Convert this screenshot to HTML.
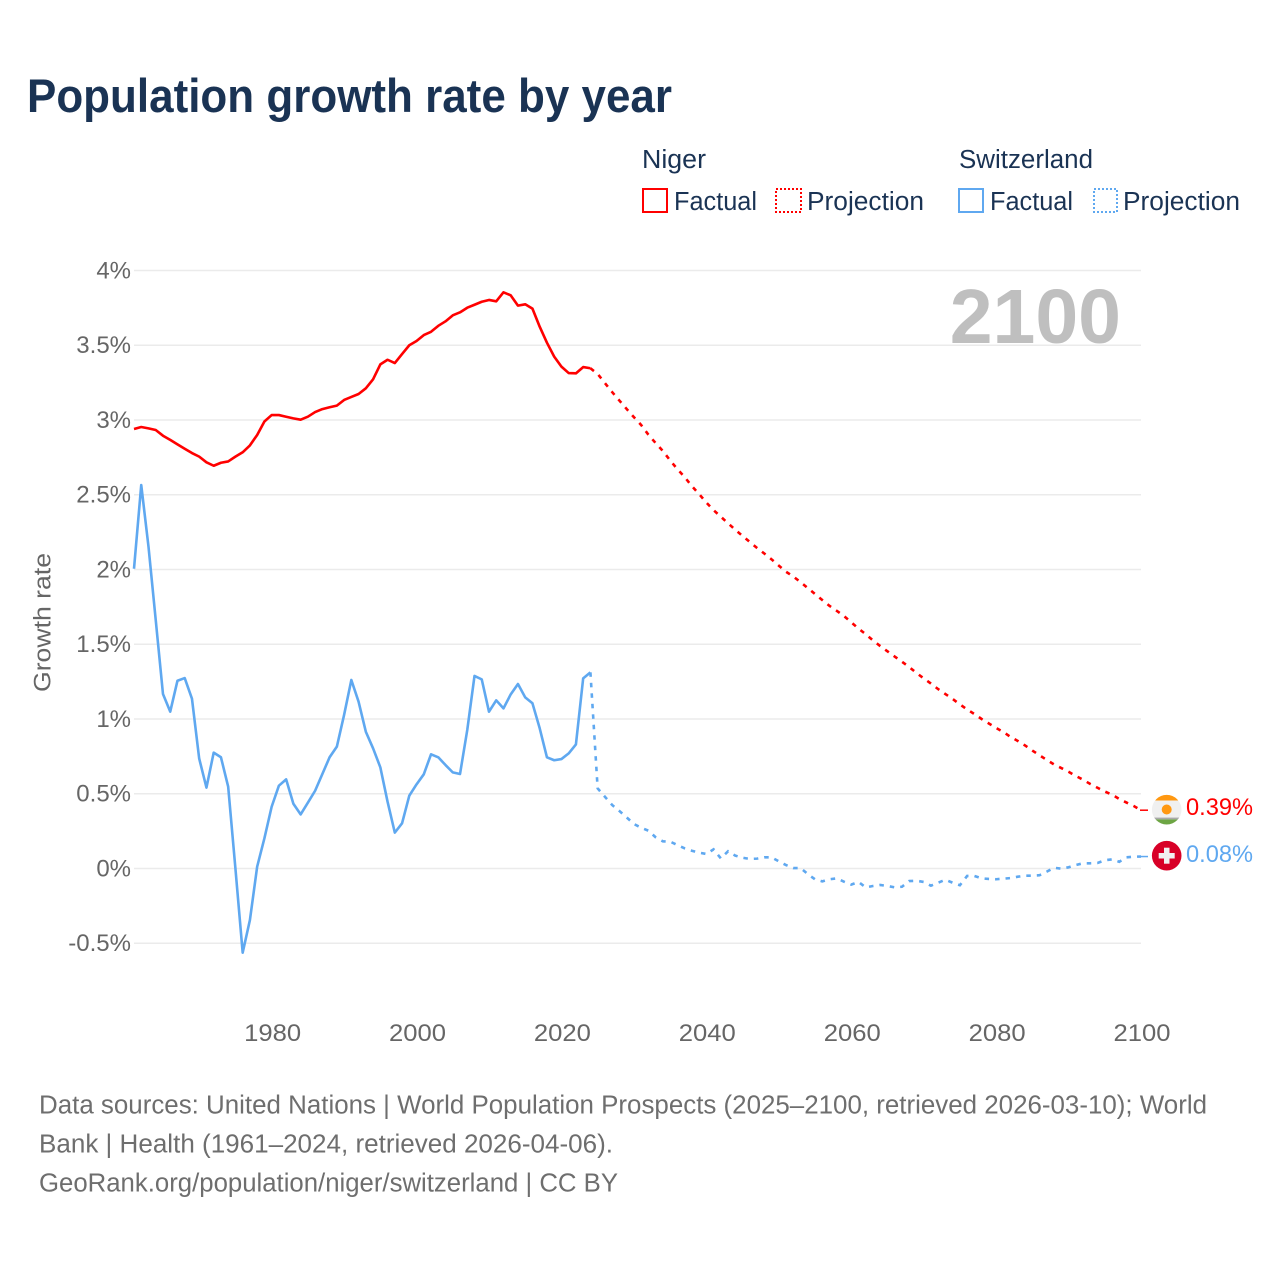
<!DOCTYPE html>
<html lang="en">
<head>
<meta charset="utf-8">
<title>Population growth rate by year</title>
<style>
html,body{margin:0;padding:0;background:#fff;}
svg{display:block;font-family:"Liberation Sans",sans-serif;}
</style>
</head>
<body>
<svg id="chart" xmlns="http://www.w3.org/2000/svg" width="1280" height="1280" viewBox="0 0 1280 1280">
  <rect x="0" y="0" width="1280" height="1280" fill="#fff"/>
  <text x="27" y="112" font-size="47" font-weight="700" fill="#1a3354" textLength="645" lengthAdjust="spacingAndGlyphs">Population growth rate by year</text>

  <g font-size="25.5" fill="#1a3354">
    <text x="642" y="168" textLength="64" lengthAdjust="spacingAndGlyphs">Niger</text>
    <text x="959" y="168" textLength="134" lengthAdjust="spacingAndGlyphs">Switzerland</text>
    <rect x="643" y="189" width="24" height="23" fill="none" stroke="#ff0000" stroke-width="2"/>
    <text x="674" y="210" textLength="83" lengthAdjust="spacingAndGlyphs">Factual</text>
    <rect x="776" y="189" width="25" height="23" fill="none" stroke="#ff0000" stroke-width="2" stroke-dasharray="2 2"/>
    <text x="807" y="210" textLength="117" lengthAdjust="spacingAndGlyphs">Projection</text>
    <rect x="959" y="189" width="24" height="23" fill="none" stroke="#5fa8f0" stroke-width="2"/>
    <text x="990" y="210" textLength="83" lengthAdjust="spacingAndGlyphs">Factual</text>
    <rect x="1094" y="189" width="23" height="23" fill="none" stroke="#5fa8f0" stroke-width="2" stroke-dasharray="2 2"/>
    <text x="1123" y="210" textLength="117" lengthAdjust="spacingAndGlyphs">Projection</text>
  </g>

  <g id="grid"></g>
  <g id="yticks" font-size="24" fill="#666666" text-anchor="end"></g>
  <g id="xticks" font-size="24" fill="#666666" text-anchor="middle"></g>
  <text transform="translate(50.5,622.5) rotate(-90)" font-size="24" fill="#666666" text-anchor="middle" textLength="139" lengthAdjust="spacingAndGlyphs">Growth rate</text>

  <text x="1121" y="343" font-size="77" font-weight="700" fill="#bfbfbf" text-anchor="end">2100</text>

  <g id="series"></g>

  <g>
    <clipPath id="nigerClip"><circle cx="1166.7" cy="809.7" r="14.8"/></clipPath>
    <g clip-path="url(#nigerClip)">
      <rect x="1150" y="794" width="34" height="32" fill="#f0f0f0"/>
      <rect x="1150" y="794" width="34" height="6.5" fill="#ff9811"/>
      <rect x="1150" y="819.3" width="34" height="7" fill="#6da544"/>
      <rect x="1150" y="817.6" width="34" height="1.7" fill="#a9a9a9"/>
    </g>
    <circle cx="1166.7" cy="809.5" r="5" fill="#ff9811"/>
  </g>
  <g>
    <circle cx="1166.7" cy="855.7" r="14.8" fill="#d80027"/>
    <rect x="1158.7" y="853" width="16" height="5.5" fill="#f0f0f0"/>
    <rect x="1164" y="847.7" width="5.5" height="16" fill="#f0f0f0"/>
  </g>
  <text id="labelNiger" x="1186" y="815" font-size="24" fill="#ff0000" textLength="67" lengthAdjust="spacingAndGlyphs">0.39%</text>
  <text id="labelSwiss" x="1186" y="862" font-size="24" fill="#5fa8f0" textLength="67" lengthAdjust="spacingAndGlyphs">0.08%</text>

  <g font-size="25.5" fill="#6e6e6e">
    <text x="39" y="1113.5" textLength="1168" lengthAdjust="spacingAndGlyphs">Data sources: United Nations | World Population Prospects (2025–2100, retrieved 2026-03-10); World</text>
    <text x="39" y="1152.5" textLength="574" lengthAdjust="spacingAndGlyphs">Bank | Health (1961–2024, retrieved 2026-04-06).</text>
    <text x="39" y="1191.5" textLength="579" lengthAdjust="spacingAndGlyphs">GeoRank.org/population/niger/switzerland | CC BY</text>
  </g>
</svg>
<script>
const yTickValues = [-0.5, 0, 0.5, 1, 1.5, 2, 2.5, 3, 3.5, 4];
const xTickYears = [1980, 2000, 2020, 2040, 2060, 2080, 2100];
const factualStartYear = 1961;
const nigerFactual = [2.94,2.953,2.944,2.933,2.895,2.867,2.837,2.808,2.779,2.755,2.717,2.694,2.714,2.723,2.755,2.784,2.83,2.90,2.99,3.033,3.033,3.022,3.011,3.002,3.022,3.053,3.073,3.085,3.096,3.134,3.154,3.174,3.212,3.272,3.372,3.403,3.381,3.441,3.50,3.528,3.568,3.59,3.63,3.66,3.70,3.72,3.751,3.771,3.791,3.803,3.794,3.854,3.834,3.765,3.774,3.745,3.624,3.517,3.424,3.357,3.314,3.312,3.354,3.346];
const nigerProjection = [3.308,3.247,3.187,3.130,3.074,3.019,2.967,2.902,2.846,2.793,2.730,2.672,2.619,2.558,2.505,2.448,2.397,2.353,2.309,2.266,2.224,2.184,2.144,2.107,2.068,2.026,1.985,1.953,1.916,1.876,1.836,1.796,1.757,1.724,1.689,1.647,1.605,1.567,1.526,1.488,1.453,1.418,1.383,1.348,1.308,1.272,1.237,1.200,1.167,1.134,1.098,1.064,1.033,1.0,0.970,0.940,0.913,0.880,0.853,0.823,0.789,0.757,0.726,0.696,0.672,0.647,0.619,0.594,0.565,0.540,0.515,0.494,0.465,0.441,0.418,0.39];
const swissFactual = [2.005,2.565,2.153,1.662,1.167,1.049,1.256,1.274,1.136,0.735,0.541,0.775,0.744,0.547,0.0,-0.563,-0.345,0.012,0.202,0.413,0.554,0.596,0.433,0.362,0.44,0.52,0.632,0.744,0.815,1.027,1.261,1.116,0.915,0.804,0.677,0.447,0.24,0.302,0.487,0.563,0.63,0.764,0.744,0.692,0.643,0.632,0.926,1.288,1.265,1.049,1.125,1.071,1.165,1.234,1.145,1.105,0.938,0.744,0.724,0.732,0.77,0.83,1.272,1.312];
const swissProjection = [0.536,0.48,0.425,0.385,0.342,0.298,0.273,0.253,0.209,0.182,0.18,0.157,0.135,0.119,0.106,0.097,0.128,0.068,0.115,0.086,0.072,0.064,0.066,0.075,0.075,0.048,0.023,0.003,0.003,-0.037,-0.072,-0.086,-0.072,-0.066,-0.088,-0.108,-0.09,-0.126,-0.117,-0.11,-0.117,-0.126,-0.122,-0.084,-0.082,-0.09,-0.115,-0.095,-0.075,-0.095,-0.112,-0.05,-0.05,-0.066,-0.07,-0.072,-0.068,-0.064,-0.055,-0.048,-0.048,-0.045,-0.021,0.005,-0.001,0.008,0.023,0.035,0.035,0.037,0.055,0.061,0.045,0.075,0.079,0.08];

const NS = 'http://www.w3.org/2000/svg';
function xScale(year) { return 134 + (year - 1961) * (1141 - 134) / 139; }
function yScale(v) { return 868.5 - 149.5 * v; }

const grid = document.getElementById('grid');
const yticks = document.getElementById('yticks');
const xticks = document.getElementById('xticks');
const seriesGroup = document.getElementById('series');

yTickValues.forEach(function (v) {
  const line = document.createElementNS(NS, 'line');
  
  
  line.setAttribute('x1', 134);
  line.setAttribute('x2', xScale(2100));
  line.setAttribute('y1', yScale(v));
  line.setAttribute('y2', yScale(v));
  line.setAttribute('stroke', '#ebebeb');
  line.setAttribute('stroke-width', '1.5');
  grid.appendChild(line);
  const t = document.createElementNS(NS, 'text');
  
  
  t.setAttribute('x', 131);
  t.setAttribute('y', yScale(v) + 7.8);
  t.textContent = v + '%';
  yticks.appendChild(t);
});

xTickYears.forEach(function (yr) {
  const t = document.createElementNS(NS, 'text');
  
  
  t.setAttribute('x', xScale(yr) + 1);
  t.setAttribute('y', 1041);
  t.setAttribute('textLength', '57');
  t.setAttribute('lengthAdjust', 'spacingAndGlyphs');
  t.textContent = yr;
  xticks.appendChild(t);
});

function pathFrom(points) {
  return points.map(function (p, i) {
    return (i ? 'L' : 'M') + xScale(p[0]).toFixed(2) + ' ' + yScale(p[1]).toFixed(2);
  }).join(' ');
}

function drawCountry(name, color, factual, projection) {
  const factualPts = factual.map(function (v, i) { return [factualStartYear + i, v]; });
  const lastYear = factualStartYear + factual.length - 1;
  const projPts = [[lastYear, factual[factual.length - 1]]].concat(
    projection.map(function (v, i) { return [lastYear + 1 + i, v]; })
  );
  const solid = document.createElementNS(NS, 'path');
  
  
  solid.setAttribute('d', pathFrom(factualPts));
  solid.setAttribute('fill', 'none');
  solid.setAttribute('stroke', color);
  solid.setAttribute('stroke-width', '2.6');
  solid.setAttribute('stroke-linejoin', 'round');
  seriesGroup.appendChild(solid);
  const dashed = document.createElementNS(NS, 'path');
  
  
  dashed.setAttribute('d', pathFrom(projPts));
  dashed.setAttribute('fill', 'none');
  dashed.setAttribute('stroke', color);
  dashed.setAttribute('stroke-width', '2.6');
  dashed.setAttribute('stroke-dasharray', '4.5 6');
  seriesGroup.appendChild(dashed);
  const endVal = projection[projection.length - 1];
  const tail = document.createElementNS(NS, 'line');
  
  
  tail.setAttribute('x1', xScale(2100) - 1);
  tail.setAttribute('x2', xScale(2100) + 7);
  tail.setAttribute('y1', yScale(endVal));
  tail.setAttribute('y2', yScale(endVal));
  tail.setAttribute('stroke', color);
  tail.setAttribute('stroke-width', '1.5');
  seriesGroup.appendChild(tail);
}

drawCountry('niger', '#ff0000', nigerFactual, nigerProjection);
drawCountry('switzerland', '#5fa8f0', swissFactual, swissProjection);
</script>
</body>
</html>
